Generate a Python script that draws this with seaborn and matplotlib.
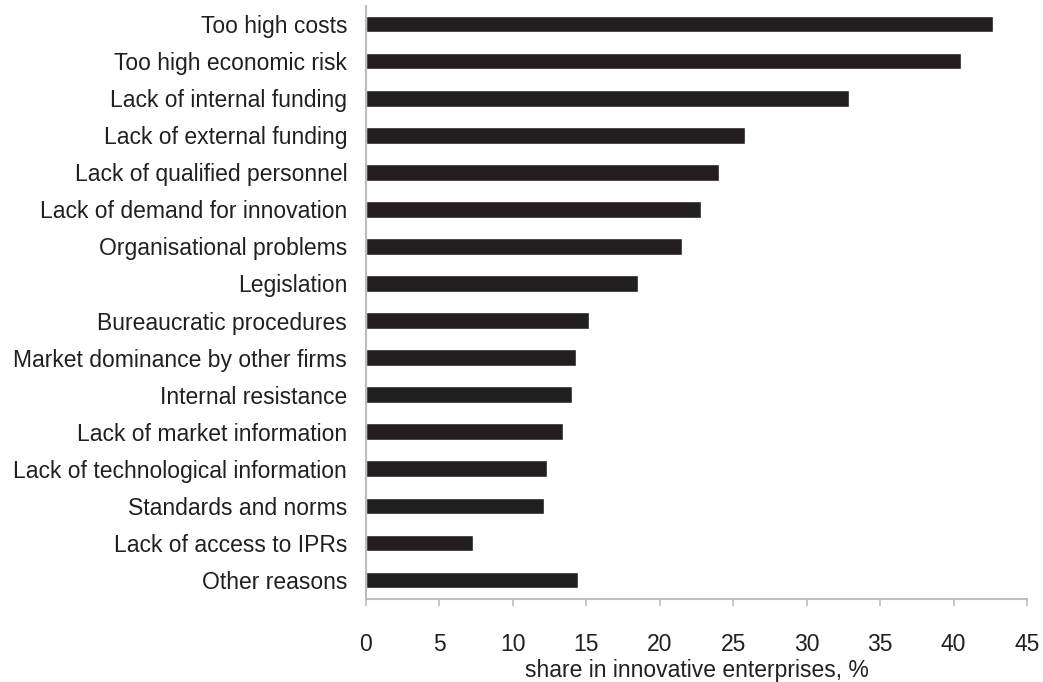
import numpy as np
import pandas as pd
import matplotlib
matplotlib.use('Agg')
import matplotlib.pyplot as plt
import seaborn as sns

# barriers to innovation, share of innovative enterprises (%)
reasons = ['Too high costs', 'Too high economic risk', 'Lack of internal funding',
           'Lack of external funding', 'Lack of qualified personnel',
           'Lack of demand for innovation', 'Organisational problems', 'Legislation',
           'Bureaucratic procedures', 'Market dominance by other firms',
           'Internal resistance', 'Lack of market information',
           'Lack of technological information', 'Standards and norms',
           'Lack of access to IPRs', 'Other reasons']
shares = [42.7, 40.5, 32.9, 25.8, 24.0, 22.8, 21.5, 18.5,
          15.2, 14.3, 14.05, 13.4, 12.3, 12.1, 7.3, 14.45]
xticks = [0, 5, 10, 15, 20, 25, 30, 35, 40, 45]

df = pd.DataFrame({'reason': reasons, 'share': shares})

sns.set_style('white')
plt.rcParams['font.family'] = ['Liberation Sans', 'DejaVu Sans']

fig = plt.figure(figsize=(10.43, 6.82), dpi=100)
ax = fig.add_axes([0.3509, 0.1224, 0.6338, 0.8695])

sns.barplot(data=df, x='share', y='reason', orient='h', color='#231f20',
            saturation=1, width=0.45, ax=ax)

ax.set_xlim(0, 45)
ax.set_ylim(15.5, -0.5)
ax.set_xticks(xticks)
ax.set_xticklabels([str(t) for t in xticks])
ax.set_xlabel('share in innovative enterprises, %', fontsize=16.5, color='#231f20', labelpad=2)
ax.set_ylabel('')

for s in ['top', 'right']:
    ax.spines[s].set_visible(False)
for s in ['left', 'bottom']:
    ax.spines[s].set_color('#bdbdbd')
    ax.spines[s].set_linewidth(1.5)

ax.tick_params(axis='x', length=5, width=1.2, color='#bdbdbd', direction='out',
               labelsize=16.5, labelcolor='#231f20', pad=20, bottom=True)
ax.tick_params(axis='y', length=0, labelsize=16.5, labelcolor='#231f20', pad=13.5)

fig.savefig('out.png', dpi=100)
